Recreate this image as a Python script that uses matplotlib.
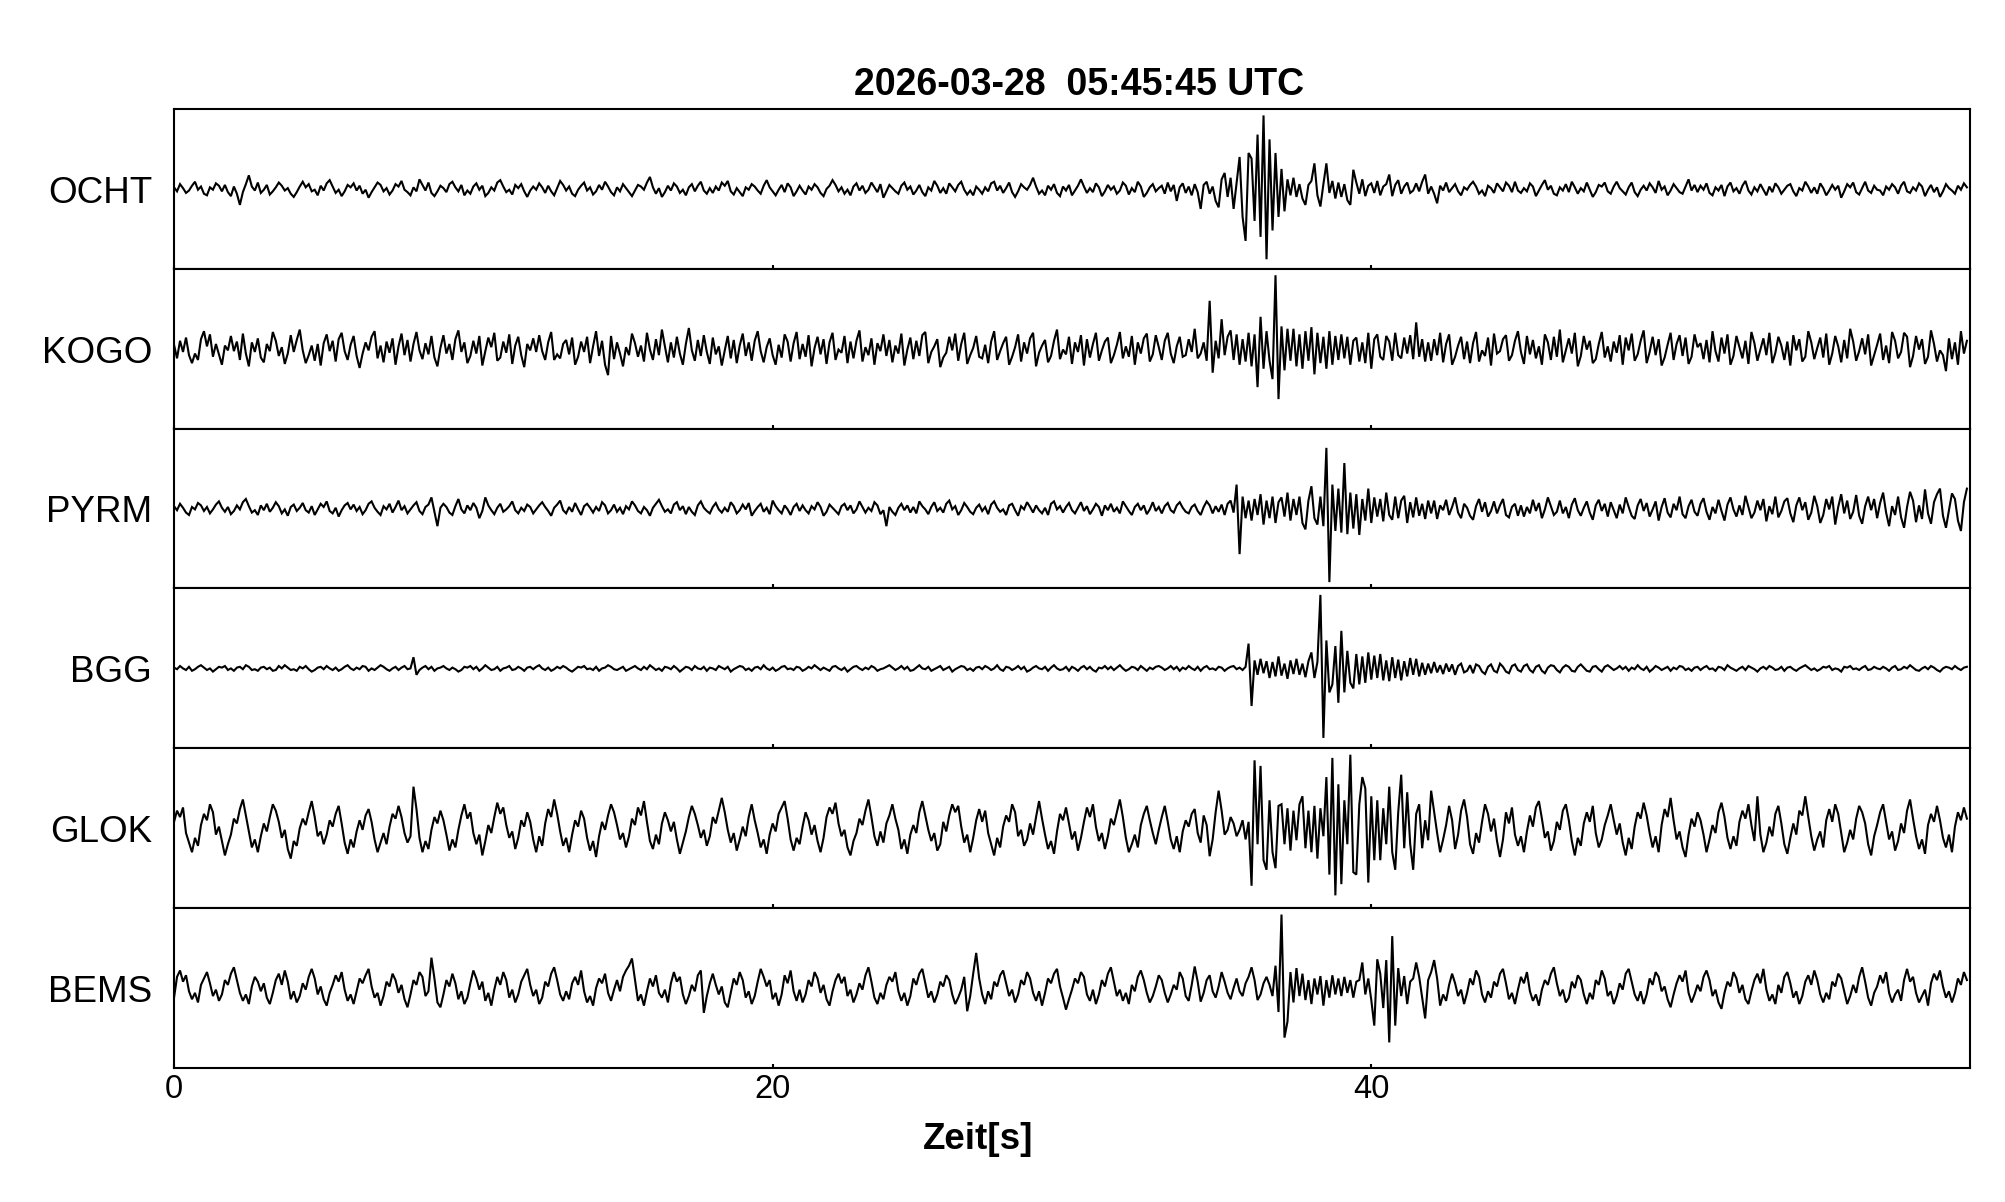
import numpy as np
import matplotlib
matplotlib.use("Agg")
import matplotlib.pyplot as plt

plt.rcParams['font.family'] = ['Liberation Sans', 'DejaVu Sans']

TITLE = "2026-03-28  05:45:45 UTC"
XLABEL = "Zeit[s]"
STATIONS = ["OCHT", "KOGO", "PYRM", "BGG", "GLOK", "BEMS"]
XTICKS = [0, 20, 40]
DT = 0.1        # seconds between samples
ROW_SEC = 3.0   # seconds per row of samples

# amplitudes in percent of half panel height, 30 samples (3 s) per row
OCHT = [
 [2,-3,6,1,-5,-2,4,9,-1,3,-6,-8,2,-1,7,4,-3,5,-4,-9,3,-6,-20,-4,6,17,3,-2,8,-5],
 [-1,5,-7,-3,2,8,4,-2,1,-6,-10,-4,3,9,2,6,-3,-1,-8,4,-2,7,11,3,-5,-1,-9,-3,5,2],
 [7,-2,4,-6,-1,-11,-4,2,8,5,-3,1,-7,-2,6,3,10,-1,-4,-8,2,-3,12,5,-2,8,-5,-9,-3,4],
 [1,-4,6,9,2,-3,5,-8,-2,-6,3,7,-1,4,-9,-5,2,-2,8,11,3,-4,-1,-7,5,1,6,-3,-10,-2],
 [3,-1,7,2,-5,4,-3,-8,1,10,5,-2,3,-6,-9,-1,4,8,-2,2,-7,-3,5,-1,9,3,-4,-8,2,-3],
 [6,1,-4,-9,-2,5,3,-1,8,15,2,-6,1,-10,-4,4,-2,7,3,-5,-1,-8,2,6,-3,4,9,-2,-6,1],
 [-5,3,-2,8,4,10,-3,-7,1,-4,-9,2,-1,6,3,-2,-6,4,11,2,-3,-8,-1,5,-4,7,2,-9,-3,4],
 [-2,-7,3,-1,6,2,-5,-9,0,4,11,5,-3,2,-6,-1,-8,3,7,-2,4,-5,-1,8,2,-4,6,-11,-3,5],
 [1,-3,-6,4,8,-1,3,-7,-2,5,-4,-9,2,-2,10,4,-5,1,-6,7,2,-3,5,9,-1,-7,-2,-8,3,-1],
 [-6,2,-3,7,9,-2,4,-5,1,8,-4,-10,-3,6,2,-1,5,14,3,-6,-2,-8,4,-1,6,-5,-9,3,-2,5],
 [-8,-2,4,12,3,-5,1,-4,7,2,-9,-3,5,-1,3,-6,-2,8,4,-7,1,-4,9,3,-10,-5,2,6,-3,1],
 [4,-6,8,-3,5,-15,2,7,-5,3,-8,6,-4,-25,5,9,-6,3,-15,-23,12,20,-10,14,-25,8,40,-35,-65,45],
 [38,-40,68,-60,92,-88,62,-52,45,-35,25,-28,12,-8,14,-10,6,-12,-20,5,10,32,-8,-22,6,32,-5,10,-12,8],
 [-10,6,-14,-20,24,8,-6,12,-9,4,7,-5,10,-8,3,6,18,-9,5,11,-6,3,8,-5,-2,7,-3,9,18,-6],
 [3,-6,-18,4,-2,8,-4,1,6,-3,-8,2,-1,5,9,3,-6,-2,-9,4,1,-5,7,2,-3,8,4,-4,9,-2],
 [-5,1,-3,7,3,-9,-2,5,11,-1,4,-6,-8,2,-2,6,-4,9,2,-6,1,-3,8,-1,-10,-4,5,3,8,-3],
 [-6,3,9,1,-3,-7,2,8,-4,-9,-1,4,-2,7,2,-5,10,-1,3,-8,-2,6,1,-4,-6,3,12,-2,5,-4],
 [4,-1,7,-5,-8,2,-2,5,-9,3,8,-3,1,-6,4,10,-2,-7,2,-3,6,-1,-8,3,-4,7,2,-6,-1,4],
 [6,-3,-9,1,-2,9,3,-5,2,-6,7,1,-8,-2,5,-1,4,-11,-3,6,2,8,-4,-7,1,9,-2,-5,4,-1],
 [-2,-8,3,-1,6,2,-6,4,9,-3,-5,2,-2,7,3,-9,-1,5,-4,2,-10,-3,6,1,-2,-6,4,-1,7,2],
]

KOGO = [
 [5,-12,10,-4,14,-8,-18,-6,-14,12,22,3,18,-10,6,-7,-20,4,-2,16,-3,9,-14,19,-6,-22,8,-4,13,-11],
 [-17,6,-3,21,10,-9,2,-19,-6,17,-4,11,24,-2,-18,-8,4,-15,6,-21,7,18,-3,10,-16,12,20,-3,-14,5],
 [16,-9,-24,-6,8,-2,15,22,-12,4,-17,9,-5,13,-20,3,19,-8,11,-16,6,21,-2,-13,7,-7,16,-11,-22,1],
 [17,-6,6,-14,12,23,-4,8,-18,-9,10,-6,16,-21,-3,14,2,20,-15,-11,9,-5,18,-19,4,15,-8,-23,6,-2],
 [13,-4,17,-3,-14,8,21,-14,-7,-12,6,11,-7,14,-20,-10,9,-4,15,-18,3,22,-9,10,-20,-33,16,-13,8,-6],
 [-22,2,-8,19,7,-10,4,-16,20,-1,-14,12,-8,24,3,-17,8,-11,15,-6,-20,6,26,-2,-15,11,-9,17,-4,-19],
 [14,-7,3,-21,-2,16,-12,11,-18,4,19,-9,8,-15,10,22,-3,-17,2,13,-8,-20,5,-11,18,9,-16,7,21,-13],
 [6,-10,17,-22,1,15,-7,12,-19,8,20,-14,-1,-5,16,-18,9,-12,10,23,-16,2,-8,13,-20,7,-3,18,-9,11],
 [-17,4,-6,19,-21,-1,14,-13,10,-9,17,21,-18,-4,3,12,-23,-11,-5,15,-2,19,-15,6,20,-19,-8,1,16,-10],
 [-12,5,-18,9,22,-14,-3,7,15,-20,-10,2,18,-16,8,-6,13,20,-22,-5,4,11,-17,-9,10,24,-13,-1,-7,15],
 [-19,8,-4,17,-21,12,-11,6,20,-15,-2,9,14,-18,-8,5,21,-12,3,-10,16,-20,8,-6,13,19,-16,-7,17,2],
 [-14,10,20,-6,-18,3,15,-10,-8,12,-4,25,-12,-6,8,-15,60,-30,10,-12,37,-8,15,23,-14,18,-20,12,-16,20],
 [-22,18,-48,40,-25,22,-15,-38,92,-63,28,-27,25,-15,25,-22,18,-25,22,-15,27,-32,20,-18,15,-25,22,-20,16,-14],
 [18,-12,15,-20,10,14,-16,8,-18,20,-25,12,18,-10,-14,16,9,-15,20,-8,-12,14,-6,17,-13,33,-10,12,-16,8],
 [-15,12,-8,20,-17,6,18,-20,-10,4,15,-13,9,-18,7,21,-16,-2,-9,14,-21,19,-6,-3,12,17,-15,-8,10,22],
 [-4,-19,16,-7,11,-12,3,-20,18,8,-14,15,-10,24,-17,-2,13,-6,20,-22,-9,16,-1,10,-18,-13,6,21,-11,3],
 [-16,9,-5,17,-20,14,-2,19,-15,-7,10,23,-18,-4,15,-8,12,-21,-11,5,20,-14,6,17,-9,14,-19,-10,18,2],
 [7,-13,11,-17,22,-3,-16,14,-6,18,-20,-9,16,2,-12,10,-19,21,7,-15,-1,13,-8,20,-18,-5,15,4,-14,9],
 [-21,17,-2,12,-16,-10,22,8,-13,1,14,-11,19,-20,-6,16,3,-17,11,-12,25,9,-15,-3,13,-7,18,-21,-8,5],
 [19,-14,4,-18,21,10,-12,-4,20,15,-23,-9,16,-1,12,-19,-10,23,6,-16,-2,-8,-28,13,-13,8,-20,22,-6,10],
]

PYRM = [
 [3,-2,6,1,-5,-8,2,-1,7,4,-3,2,-6,-1,5,9,1,-4,2,-7,-3,4,-1,8,12,3,-5,-2,-8,4],
 [-2,6,-4,1,8,3,-6,-1,-9,2,5,-3,1,7,-2,-5,3,-8,-1,6,2,9,-3,-6,1,-10,-2,4,7,-1],
 [5,-3,2,-7,-2,6,9,1,-4,-8,3,-1,6,-5,2,10,-2,3,-6,-1,4,8,-3,-7,2,5,14,-4,-22,1],
 [6,2,-5,-8,3,12,-1,-6,4,-2,7,1,-12,-3,14,4,-2,-7,1,6,-4,-1,3,9,-2,-6,1,-3,5,2],
 [-6,-1,4,8,2,-3,-9,1,5,10,-2,-6,2,-4,7,-1,-8,3,6,1,-5,2,-3,8,4,-6,-2,5,-4,1],
 [-7,3,-1,9,4,-3,-6,2,-2,-9,1,6,11,3,-4,-1,-6,5,8,-2,3,-7,2,-4,-8,4,9,1,-3,-6],
 [2,7,-1,-5,1,-4,8,3,-6,-2,5,-1,7,-9,-3,2,6,-4,1,-7,10,3,-2,-6,4,-1,-8,2,6,-3],
 [4,-2,-6,3,-1,8,2,-9,-4,5,1,-3,-7,3,6,-2,4,-6,-1,9,2,-5,1,-3,8,4,-7,-2,-22,2],
 [-4,-8,1,6,-2,4,-5,2,-6,9,3,-1,-7,2,8,-3,1,-5,6,10,-1,3,-8,-2,7,2,-4,-7,1,5],
 [-3,2,-7,5,9,1,-4,-1,-8,4,6,-2,-9,3,-1,8,2,-5,4,-2,-6,1,-8,6,9,-1,3,-5,2,7],
 [-2,-6,1,8,-3,3,-7,-1,6,2,-9,4,-2,6,-4,1,-6,9,3,-3,-8,2,6,-2,4,-7,-1,8,-3,2],
 [-6,3,7,-2,-5,4,8,1,-4,-6,2,5,-3,-8,2,9,4,-6,3,-4,5,-8,6,10,-5,30,-57,15,-12,10],
 [-15,12,-8,18,-20,10,-12,15,-18,8,14,-10,20,-15,12,-8,15,-18,-26,10,28,-12,-20,15,-22,76,-92,30,-28,25],
 [-30,57,-32,20,-25,18,-33,12,-15,25,-18,14,-10,12,-16,20,-8,-14,15,-12,10,16,-18,8,-11,14,-9,6,-13,10],
 [-6,10,-13,4,-2,11,-8,2,14,-5,-12,6,1,-9,-14,3,12,-4,8,-10,-3,9,-6,4,12,-8,-11,2,6,-9],
 [4,-10,2,-6,11,-3,7,-12,-1,14,3,-8,-4,10,-6,2,-12,5,13,-2,-9,1,9,-5,-14,4,11,-3,6,-10],
 [8,-2,-12,5,-6,14,2,-9,-13,4,12,-3,7,-10,-1,9,-15,2,13,-5,-11,6,-2,15,-7,-12,3,11,-4,-9],
 [6,13,-4,-14,2,-6,11,-3,-15,5,14,-1,-10,4,-8,16,2,-12,-5,10,-2,12,-16,3,-7,15,-11,-3,9,13],
 [-6,-17,4,14,-2,8,-14,-5,16,3,-18,-8,12,-1,15,-20,2,18,-6,10,-13,-4,17,-9,-19,3,15,-2,12,-12],
 [7,20,-5,-22,3,-8,15,-11,-24,2,21,10,-17,4,-13,24,-6,-19,8,18,25,-9,-24,-2,19,12,-15,-28,8,25],
]

BGG = [
 [1,-1,3,0,-2,2,-3,-1,2,4,1,-2,0,-4,-1,2,1,3,-2,0,-3,1,2,-1,4,2,-2,-1,-3,1],
 [2,-1,1,-3,-2,3,0,4,1,-2,-1,-3,2,0,3,-1,-4,-2,1,2,-1,3,0,-2,1,-3,-1,2,4,0],
 [-2,1,-1,3,2,-3,0,-2,1,4,2,-1,-3,0,2,-2,1,3,-1,0,14,-8,-2,1,3,-1,2,-3,0,1],
 [3,0,-2,1,-1,-4,-2,2,1,3,-1,2,-3,0,4,1,-2,-1,2,-3,0,1,3,-2,-1,2,0,-3,1,2],
 [-1,2,4,0,-2,1,-3,-1,2,0,3,1,-2,-4,-1,2,1,3,-1,0,-2,2,-3,0,1,4,2,-1,-2,0],
 [2,-3,-1,1,3,0,-2,2,-1,4,1,-2,0,-3,2,1,-1,3,0,-4,-1,2,1,-2,3,0,-1,2,-3,1],
 [0,-2,3,1,-1,2,-4,-1,1,3,2,-2,0,-3,1,2,-1,4,0,-2,1,-3,-1,2,3,-1,0,-2,2,1],
 [-3,-1,2,0,4,1,-2,1,-1,-3,2,3,0,-2,1,-4,-1,2,3,0,-2,1,-1,3,1,-3,-1,0,2,4],
 [1,-2,0,3,-1,2,-3,-2,1,4,0,-1,2,-3,-1,1,3,-2,0,2,-4,-1,1,3,2,-2,0,-3,1,2],
 [-1,3,1,-2,0,4,-1,-3,2,1,-2,0,3,-1,2,-4,-2,1,3,0,-1,2,-3,1,4,0,-2,-1,2,-3],
 [2,0,-3,1,3,-1,2,-2,-4,1,0,3,-1,2,-2,1,4,0,-3,-1,2,1,-2,3,0,-3,1,-1,2,3],
 [1,-2,0,3,-1,2,-3,1,-1,3,0,-2,2,-3,1,3,-1,0,-2,2,1,-3,0,2,3,-1,1,-2,2,31],
 [-47,10,-8,12,-6,9,-12,8,-10,15,-9,6,-13,10,-7,12,-8,6,-11,9,20,-12,8,92,-87,35,-30,-20,28,-43],
 [47,-30,22,-18,-25,18,-20,15,-18,20,-14,16,-12,18,-15,10,-16,14,-12,11,-15,9,-10,13,-8,12,-10,7,-8,6],
 [-6,8,-5,4,-7,6,-4,5,-8,3,6,-5,-3,4,-6,5,3,-4,-7,2,5,-3,-5,6,2,-4,-6,3,5,-2],
 [-4,3,5,-2,-5,2,4,-3,-6,1,4,3,-2,-5,1,4,2,-3,-4,2,5,1,-3,-4,2,3,-1,-4,2,4],
 [1,-2,0,3,-1,2,-3,1,-1,4,0,-2,2,-4,-1,3,1,-2,0,2,-3,1,-1,3,2,-2,0,-3,1,2],
 [-2,1,3,-1,0,-3,2,1,-2,4,1,-1,-3,0,2,-2,3,1,-1,-4,0,2,-1,3,1,-2,-1,2,-3,1],
 [2,-1,-3,0,2,4,1,-2,0,-3,-1,2,1,3,-2,0,-1,-4,2,1,3,-1,0,-2,1,3,-2,-1,2,0],
 [-1,2,0,-3,1,3,-2,-1,2,0,4,1,-2,-3,0,2,-1,3,1,-2,-4,0,2,1,-1,3,0,-2,1,2],
]

GLOK = [
 [8,22,14,26,-6,-18,-30,-12,-22,4,18,10,30,20,-8,2,-16,-34,-20,-8,12,6,24,36,16,-4,-24,-14,-30,-10],
 [6,-4,14,30,22,8,-12,-2,-26,-38,-16,-22,0,12,4,20,34,14,-10,-4,-20,-8,10,2,18,28,6,-18,-32,-14],
 [-24,-4,10,-2,16,24,8,-14,-30,-18,-6,-20,2,18,12,28,14,-6,-18,-10,52,24,-12,-30,-16,-26,-2,14,6,22],
 [10,-8,-28,-14,-24,-2,16,30,12,20,-6,-20,-8,-34,-16,4,-6,14,32,18,26,4,-12,-4,-26,-12,10,2,20,8],
 [-14,-30,-10,-22,6,24,14,36,18,-4,-22,-12,-30,-8,10,2,22,12,-12,-28,-16,-36,-10,8,-2,16,30,20,4,-14],
 [-6,-24,-10,12,4,26,16,34,8,-16,-26,-8,-20,6,20,10,-4,8,-14,-32,-18,-4,14,28,18,4,-12,-2,-22,-10],
 [14,6,22,38,20,-2,-18,-6,-28,-14,2,-10,14,30,10,-6,-24,-14,-32,-8,6,-4,18,26,34,12,-14,-28,-12,-20],
 [2,20,10,-8,4,-16,-30,-12,14,26,18,32,6,-10,-2,-24,-34,-16,-6,12,4,22,36,14,-10,-22,-4,-18,6,16],
 [30,12,-2,-26,-14,-32,-8,4,-6,20,34,16,-2,-16,-6,-28,-20,8,-4,16,30,20,28,2,-18,-8,-30,-12,10,24],
 [8,22,-6,-20,-34,-12,-24,2,16,8,30,20,-10,-2,-22,-14,6,-8,14,34,12,-8,-26,-16,-32,-4,18,10,26,6],
 [-14,-4,-28,-12,8,26,14,30,2,-16,-6,-26,-10,12,4,20,36,14,-12,-30,-20,-8,-24,4,18,28,10,-6,-20,-2],
 [14,28,8,-14,-26,-10,-30,-4,10,2,18,24,-6,-18,16,4,-35,-14,20,47,22,-8,-2,14,6,-10,-2,10,-14,8],
 [-72,85,-20,78,-40,-52,35,-30,-50,28,30,-20,25,-28,22,-15,30,40,-25,22,-30,28,-38,25,-10,64,-58,88,-84,55],
 [-70,35,-20,92,-55,-58,30,64,50,-68,40,-40,35,-40,25,-20,52,-30,-52,20,67,-25,45,-20,-52,18,30,-25,10,-15],
 [47,20,-6,-30,-14,4,28,10,-26,-8,22,36,14,-20,-32,-6,-18,8,30,18,-4,12,-16,-36,-14,20,6,26,-8,-22],
 [-10,-30,-4,16,2,26,34,12,-12,-4,-28,-16,8,-2,22,30,10,-16,-34,-12,-22,6,20,8,28,-6,-24,-14,4,16],
 [30,10,-8,6,-18,-34,-12,-26,2,20,12,32,16,-6,-24,-10,-30,4,24,14,38,10,-14,-4,-24,-36,-8,12,2,20],
 [10,-8,-30,-14,4,-6,20,32,14,-12,-26,-10,-22,8,22,12,30,4,-16,40,-8,-30,-18,2,-10,18,28,6,-20,-32],
 [-12,6,-8,22,16,40,14,-10,-28,-14,-4,-24,10,24,8,30,18,-6,-30,-18,-2,-14,12,28,20,6,-20,-34,-10,4],
 [20,30,8,-14,-4,-28,-16,6,-6,22,36,12,-10,-26,-14,-32,4,18,8,28,10,-12,-24,-8,-30,2,20,10,26,12],
]

BEMS = [
 [-12,14,22,8,16,-4,-14,-6,-18,4,12,20,6,-10,-2,-16,-8,10,4,18,26,10,-6,-16,-8,-20,2,14,8,-4],
 [6,-12,-20,-6,10,18,4,22,8,-14,-4,-18,-10,6,-2,14,24,12,-8,2,-14,-22,-6,4,16,8,20,-2,-16,-8],
 [-20,-4,12,6,16,24,2,-12,-6,-22,-10,8,2,18,10,-6,4,-14,-24,-8,10,4,20,14,-10,-4,38,12,-18,-24],
 [-8,10,2,18,6,-14,-4,-20,-12,6,22,12,-2,8,-16,-6,-22,-2,14,4,20,10,-12,-2,-18,-8,8,16,24,4],
 [-10,-2,-20,-12,8,2,18,26,10,-8,-16,-4,-14,6,14,4,22,-4,-18,-10,-22,0,12,6,18,-6,-16,-2,10,-4],
 [14,22,28,37,10,-16,-8,-22,-4,12,2,16,-6,-12,-2,-18,6,20,8,14,-8,-20,-10,4,-4,16,22,-31,-10,6],
 [18,4,-8,2,-18,-24,-6,12,4,20,10,-12,-4,-20,-10,8,24,14,2,10,-14,-6,-22,-8,16,6,22,-4,-16,-2],
 [-18,-8,10,2,20,12,-6,4,-14,-22,-4,10,18,6,14,-10,-2,-18,-8,6,-2,16,26,8,-12,-20,-6,-14,4,14],
 [8,20,-4,-16,-6,-22,-10,12,4,18,24,6,-12,-4,-18,-8,8,2,16,10,-8,-20,-12,-2,14,-29,-10,18,44,12],
 [-8,-20,-4,-14,8,2,16,22,6,-10,-2,-18,-8,10,4,20,12,-6,-16,-4,-22,-6,12,6,18,24,2,-12,-27,-14],
 [-2,12,6,20,14,-8,-16,-2,-20,-8,10,2,18,26,8,-10,-2,-16,-6,-20,4,-4,14,22,10,-6,-18,-10,2,16],
 [10,-6,-18,-8,4,-2,20,12,-10,-16,4,27,8,-17,-6,10,16,-4,-12,2,20,8,-6,-14,0,12,-4,-10,6,14],
 [26,10,-15,-8,6,14,4,-10,28,-30,92,-62,-42,20,-18,25,-10,18,-15,10,-20,12,-8,15,-22,10,-12,16,-8,12],
 [-10,14,-6,10,-12,8,10,32,-8,12,-15,-47,36,18,-25,35,-68,65,-47,25,-10,15,-20,8,12,32,14,-12,-38,10],
 [20,35,12,-22,-8,-16,4,18,6,-10,-2,-20,-6,12,4,22,14,-8,-18,-4,-12,8,2,18,24,6,-14,-6,-20,-2],
 [14,6,20,-4,-16,-8,-22,-2,10,4,18,26,6,-10,-2,-18,-12,8,0,16,10,-8,-20,-6,-14,10,4,22,12,-10],
 [-4,-20,-10,6,-2,18,24,8,-8,-16,-4,-20,-8,12,4,20,14,-4,2,-14,-24,-8,6,16,8,22,-6,-18,-8,4],
 [-4,14,22,10,-10,-2,-18,-26,-6,8,2,20,12,-6,4,-14,-20,-4,10,18,6,24,-2,-16,-8,-20,4,-6,14,20],
 [6,-12,-4,-20,-10,8,16,4,22,10,-8,-18,-6,-14,8,2,18,12,-4,-20,-10,4,-6,14,26,8,-12,-22,-6,2],
 [16,6,20,-6,-18,-8,-2,-16,10,24,8,14,-6,-18,-10,-2,-22,6,18,10,22,2,-12,-4,-18,-6,12,4,20,10],
]

TRACES = [OCHT, KOGO, PYRM, BGG, GLOK, BEMS]

fig = plt.figure(figsize=(20.05, 12.02), dpi=100)
fig.subplots_adjust(left=0.0868, right=0.9825, bottom=0.1115, top=0.9093, hspace=0)
axes = fig.subplots(len(STATIONS), 1, sharex=True)

for ax, name, rows in zip(axes, STATIONS, TRACES):
    t = np.concatenate([ROW_SEC * k + DT * np.arange(len(r)) for k, r in enumerate(rows)])
    y = np.concatenate([np.asarray(r, dtype=float) for r in rows])
    ax.plot(t, y, color='black', lw=1.5, solid_joinstyle='miter')
    ax.set_xlim(0, 60)
    ax.set_ylim(-100, 100)
    ax.set_yticks([])
    ax.set_xticks(XTICKS)
    ax.tick_params(axis='x', direction='in', length=3, width=1.5, pad=4.5,
                   labelsize=23.5, bottom=True, top=False)
    for s in ax.spines.values():
        s.set_linewidth(1.5)
    ax.annotate(name, xy=(0, 0.5), xycoords='axes fraction',
                xytext=(-15.8, -10), textcoords='offset points',
                ha='right', va='baseline', fontsize=26.5)

fig.text(1079 / 2005, 1 - 95 / 1202, TITLE, ha='center', va='baseline',
         fontsize=27, fontweight='bold')
fig.text(978 / 2005, 1 - 1149 / 1202, XLABEL, ha='center', va='baseline',
         fontsize=26.5, fontweight='bold')

fig.savefig("out.png", dpi=100)
